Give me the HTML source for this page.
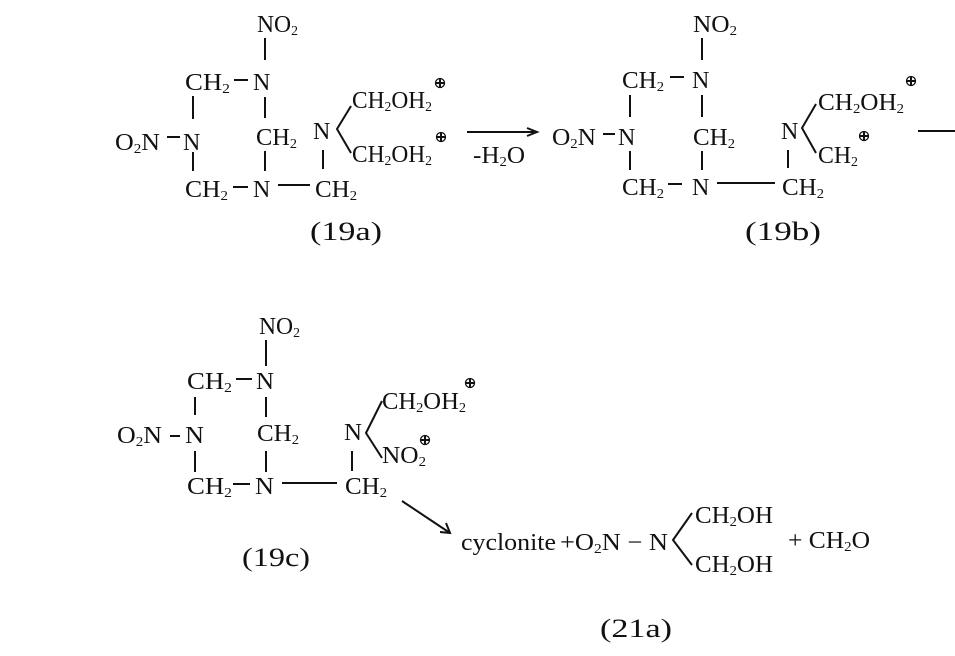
<!DOCTYPE html>
<html><head><meta charset="utf-8"><style>
html,body{margin:0;padding:0;background:#fff;}
svg{display:block}
text{font-family:"Liberation Serif",serif;font-size:24px;fill:#111;}
.s{font-size:14px}
line,polyline{stroke:#111;stroke-width:2;fill:none}
</style></head><body>
<svg width="955" height="656" viewBox="0 0 955 656" xmlns="http://www.w3.org/2000/svg">
<defs>
<g id="op"><circle cx="0" cy="0" r="4.5" stroke="#111" stroke-width="1.3" fill="none"/><line x1="-4.5" y1="0" x2="4.5" y2="0" stroke-width="1.3"/><line x1="0" y1="-4.5" x2="0" y2="4.5" stroke-width="1.3"/></g>
</defs>

<!-- 19a -->
<text x="257" y="32" textLength="41" lengthAdjust="spacingAndGlyphs">NO<tspan class="s" dy="3">2</tspan></text>
<line x1="265" y1="38" x2="265" y2="60"/>
<text x="185" y="90" textLength="45" lengthAdjust="spacingAndGlyphs">CH<tspan class="s" dy="3">2</tspan></text>
<line x1="234" y1="80" x2="248" y2="80"/>
<text x="253" y="90">N</text>
<line x1="193" y1="96" x2="193" y2="119"/>
<line x1="265" y1="97" x2="265" y2="118"/>
<text x="115" y="150" textLength="45" lengthAdjust="spacingAndGlyphs">O<tspan class="s" dy="3">2</tspan><tspan dy="-3">N</tspan></text>
<line x1="167" y1="137" x2="180" y2="137"/>
<text x="183" y="150">N</text>
<text x="256" y="145" textLength="41" lengthAdjust="spacingAndGlyphs">CH<tspan class="s" dy="3">2</tspan></text>
<text x="313" y="139">N</text>
<polyline points="351,106 337,129 351,153"/>
<text x="352" y="108" textLength="80" lengthAdjust="spacingAndGlyphs">CH<tspan class="s" dy="3">2</tspan><tspan dy="-3">OH</tspan><tspan class="s" dy="3">2</tspan></text>
<use href="#op" x="440" y="83"/>
<text x="352" y="162" textLength="80" lengthAdjust="spacingAndGlyphs">CH<tspan class="s" dy="3">2</tspan><tspan dy="-3">OH</tspan><tspan class="s" dy="3">2</tspan></text>
<use href="#op" x="441" y="137"/>
<line x1="193" y1="152" x2="193" y2="171"/>
<line x1="265" y1="151" x2="265" y2="171"/>
<line x1="323" y1="150" x2="323" y2="169"/>
<text x="185" y="197" textLength="43" lengthAdjust="spacingAndGlyphs">CH<tspan class="s" dy="3">2</tspan></text>
<line x1="233" y1="187" x2="248" y2="187"/>
<text x="253" y="197">N</text>
<line x1="278" y1="185" x2="310" y2="185"/>
<text x="315" y="197" textLength="42" lengthAdjust="spacingAndGlyphs">CH<tspan class="s" dy="3">2</tspan></text>
<text x="310" y="240" style="font-size:26px" textLength="72" lengthAdjust="spacingAndGlyphs">(19a)</text>

<!-- arrow -->
<line x1="467" y1="132" x2="534" y2="132" stroke-width="1.6"/>
<polyline points="527,128 537,132 527,136" stroke-width="1.6"/>
<text x="473" y="163" textLength="52" lengthAdjust="spacingAndGlyphs">-H<tspan class="s" dy="3">2</tspan><tspan dy="-3">O</tspan></text>

<!-- 19b -->
<text x="693" y="32" textLength="44" lengthAdjust="spacingAndGlyphs">NO<tspan class="s" dy="3">2</tspan></text>
<line x1="702" y1="38" x2="702" y2="60"/>
<text x="622" y="88" textLength="42" lengthAdjust="spacingAndGlyphs">CH<tspan class="s" dy="3">2</tspan></text>
<line x1="670" y1="77" x2="684" y2="77"/>
<text x="692" y="88">N</text>
<line x1="630" y1="95" x2="630" y2="117"/>
<line x1="702" y1="95" x2="702" y2="117"/>
<text x="552" y="145" textLength="44" lengthAdjust="spacingAndGlyphs">O<tspan class="s" dy="3">2</tspan><tspan dy="-3">N</tspan></text>
<line x1="603" y1="134" x2="615" y2="134"/>
<text x="618" y="145">N</text>
<text x="693" y="145" textLength="42" lengthAdjust="spacingAndGlyphs">CH<tspan class="s" dy="3">2</tspan></text>
<text x="781" y="139">N</text>
<polyline points="816,104 802,128 816,153"/>
<text x="818" y="110" textLength="86" lengthAdjust="spacingAndGlyphs">CH<tspan class="s" dy="3">2</tspan><tspan dy="-3">OH</tspan><tspan class="s" dy="3">2</tspan></text>
<use href="#op" x="911" y="81"/>
<text x="818" y="163" textLength="40" lengthAdjust="spacingAndGlyphs">CH<tspan class="s" dy="3">2</tspan></text>
<use href="#op" x="864" y="136"/>
<line x1="630" y1="151" x2="630" y2="170"/>
<line x1="702" y1="151" x2="702" y2="170"/>
<line x1="788" y1="150" x2="788" y2="168"/>
<text x="622" y="195" textLength="42" lengthAdjust="spacingAndGlyphs">CH<tspan class="s" dy="3">2</tspan></text>
<line x1="668" y1="184" x2="682" y2="184"/>
<text x="692" y="195">N</text>
<line x1="717" y1="183" x2="775" y2="183"/>
<text x="782" y="195" textLength="42" lengthAdjust="spacingAndGlyphs">CH<tspan class="s" dy="3">2</tspan></text>
<text x="745" y="240" style="font-size:26px" textLength="76" lengthAdjust="spacingAndGlyphs">(19b)</text>
<line x1="918" y1="131" x2="955" y2="131" stroke-width="1.6"/>

<!-- 19c -->
<text x="259" y="334" textLength="41" lengthAdjust="spacingAndGlyphs">NO<tspan class="s" dy="3">2</tspan></text>
<line x1="266" y1="340" x2="266" y2="366"/>
<text x="187" y="389" textLength="45" lengthAdjust="spacingAndGlyphs">CH<tspan class="s" dy="3">2</tspan></text>
<line x1="236" y1="379" x2="252" y2="379"/>
<text x="256" y="389" textLength="18" lengthAdjust="spacingAndGlyphs">N</text>
<line x1="195" y1="397" x2="195" y2="415"/>
<line x1="266" y1="397" x2="266" y2="417"/>
<text x="117" y="443" textLength="45" lengthAdjust="spacingAndGlyphs">O<tspan class="s" dy="3">2</tspan><tspan dy="-3">N</tspan></text>
<line x1="170" y1="436" x2="180" y2="436"/>
<text x="185" y="443" textLength="19" lengthAdjust="spacingAndGlyphs">N</text>
<text x="257" y="441" textLength="42" lengthAdjust="spacingAndGlyphs">CH<tspan class="s" dy="3">2</tspan></text>
<text x="344" y="440" textLength="18" lengthAdjust="spacingAndGlyphs">N</text>
<polyline points="382,401 366,433 382,458"/>
<text x="382" y="409" textLength="84" lengthAdjust="spacingAndGlyphs">CH<tspan class="s" dy="3">2</tspan><tspan dy="-3">OH</tspan><tspan class="s" dy="3">2</tspan></text>
<use href="#op" x="470" y="383"/>
<text x="382" y="463" textLength="44" lengthAdjust="spacingAndGlyphs">NO<tspan class="s" dy="3">2</tspan></text>
<use href="#op" x="425" y="440"/>
<line x1="195" y1="451" x2="195" y2="472"/>
<line x1="266" y1="451" x2="266" y2="472"/>
<line x1="352" y1="451" x2="352" y2="471"/>
<text x="187" y="494" textLength="45" lengthAdjust="spacingAndGlyphs">CH<tspan class="s" dy="3">2</tspan></text>
<line x1="233" y1="484" x2="250" y2="484"/>
<text x="255" y="494" textLength="19" lengthAdjust="spacingAndGlyphs">N</text>
<line x1="282" y1="483" x2="337" y2="483"/>
<text x="345" y="494" textLength="42" lengthAdjust="spacingAndGlyphs">CH<tspan class="s" dy="3">2</tspan></text>
<text x="242" y="566" style="font-size:26px" textLength="68" lengthAdjust="spacingAndGlyphs">(19c)</text>

<!-- diagonal arrow -->
<line x1="402" y1="501" x2="450" y2="533" stroke-width="1.8"/>
<polyline points="440,532 450,533 446,523" stroke-width="1.8"/>

<!-- products -->
<text x="461" y="550" textLength="95" lengthAdjust="spacingAndGlyphs">cyclonite</text>
<text x="560" y="550" textLength="108" lengthAdjust="spacingAndGlyphs">+O<tspan class="s" dy="3">2</tspan><tspan dy="-3">N − N</tspan></text>
<polyline points="692,513 673,540 692,565"/>
<text x="695" y="523" textLength="78" lengthAdjust="spacingAndGlyphs">CH<tspan class="s" dy="3">2</tspan><tspan dy="-3">OH</tspan></text>
<text x="695" y="572" textLength="78" lengthAdjust="spacingAndGlyphs">CH<tspan class="s" dy="3">2</tspan><tspan dy="-3">OH</tspan></text>
<text x="788" y="548" textLength="82" lengthAdjust="spacingAndGlyphs">+ CH<tspan class="s" dy="3">2</tspan><tspan dy="-3">O</tspan></text>
<text x="600" y="637" style="font-size:26px" textLength="72" lengthAdjust="spacingAndGlyphs">(21a)</text>
</svg>
</body></html>
